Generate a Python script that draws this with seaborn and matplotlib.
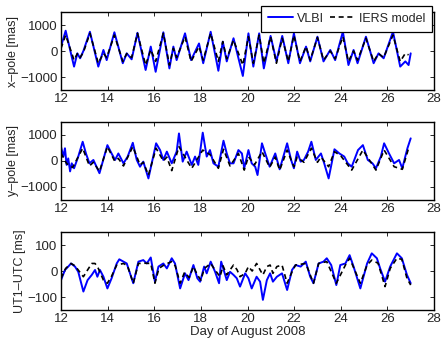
import matplotlib
matplotlib.use("Agg")
import matplotlib.pyplot as plt
import seaborn as sns

# x-pole [mas]
xp_vlbi_t = [12.0, 12.2, 12.46, 12.56, 12.7, 12.82, 12.96, 13.24, 13.6, 13.82, 13.96, 14.29, 14.65, 14.82,
             15.03, 15.28, 15.63, 15.85, 16.06, 16.39, 16.65, 16.82, 16.96, 17.32, 17.58, 17.92, 18.1, 18.42,
             18.75, 18.94, 19.11, 19.4, 19.8, 20.04, 20.25, 20.5, 20.7, 20.99, 21.24, 21.49, 21.75, 21.99,
             22.25, 22.51, 22.69, 23.0, 23.26, 23.55, 23.76, 24.09, 24.33, 24.55, 24.72, 25.08, 25.41, 25.62,
             25.84, 26.24, 26.55, 26.77, 26.91, 27.0]
xp_vlbi = [170, 780, -220, -600, -90, -280, 0, 740, -600, 40, -350, 720, -470, -90,
           -320, 700, -730, 170, -800, 720, -670, 170, -350, 680, -350, 290, -470, 740,
           -760, 360, -400, 490, -960, 680, -600, 680, -670, 580, -400, 580, -470, 680,
           -470, 170, -400, 550, -400, 40, -350, 740, -540, 40, -470, 550, -470, -90,
           -280, 740, -600, -400, -540, -90]
xp_iers_t = [12.0, 12.2, 12.56, 12.7, 12.82, 12.96, 13.24, 13.6, 13.82, 13.96, 14.29, 14.65, 14.82, 15.03,
             15.28, 15.63, 15.85, 16.06, 16.39, 16.65, 16.82, 16.96, 17.32, 17.58, 17.92, 18.1, 18.42, 18.75,
             18.94, 19.11, 19.4, 19.8, 20.04, 20.25, 20.5, 20.7, 20.99, 21.24, 21.49, 21.75, 21.99, 22.25,
             22.51, 22.69, 23.0, 23.26, 23.55, 23.76, 24.09, 24.33, 24.55, 24.72, 25.08, 25.41, 25.62, 25.84,
             26.24, 26.55, 26.77, 26.91]
xp_iers = [100, 610, -350, -100, -250, -50, 680, -470, -90, -250, 610, -400, -100, -250,
           680, -540, 50, -400, 680, -540, 100, -250, 550, -400, 170, -350, 680, -400,
           360, -300, 420, -540, 550, -470, 610, -470, 550, -470, 490, -400, 600, -400,
           170, -350, 520, -350, 0, -300, 550, -400, 0, -350, 490, -400, -100, -250,
           610, -400, -90, -150]

# y-pole [mas]
yp_vlbi_t = [12.0, 12.1, 12.17, 12.24, 12.31, 12.39, 12.46, 12.56, 12.74, 12.93, 13.07, 13.22, 13.39, 13.65,
             13.99, 14.17, 14.32, 14.46, 14.68, 14.86, 15.08, 15.25, 15.39, 15.53, 15.75, 16.08, 16.25, 16.39,
             16.54, 16.75, 16.96, 17.06, 17.22, 17.39, 17.61, 17.75, 17.89, 18.08, 18.25, 18.39, 18.54, 18.75,
             18.97, 19.11, 19.25, 19.4, 19.61, 19.76, 19.86, 20.04, 20.18, 20.33, 20.43, 20.62, 20.76, 20.95,
             21.19, 21.38, 21.7, 21.87, 21.99, 22.13, 22.28, 22.42, 22.6, 22.74, 22.93, 23.15, 23.29, 23.48,
             23.73, 23.94, 24.15, 24.3, 24.47, 24.74, 24.95, 25.16, 25.36, 25.51, 25.72, 25.86, 26.07, 26.29,
             26.5, 26.64, 26.86, 27.0]
yp_vlbi = [550, 170, 490, -150, 100, -400, -90, -280, 170, 740, 290, -90, 40, -470,
           610, 290, 40, 290, -90, 170, 700, 40, -220, -25, -670, 680, 420, 40,
           360, -90, 360, 1060, -25, 360, -150, 170, -150, 1090, 170, 420, -90, -220,
           780, 290, -90, -90, 420, 290, -280, 420, -90, -220, -540, 680, 290, -220,
           290, -320, 680, 40, -280, 360, -25, 40, 360, 740, 40, 290, -90, -670,
           450, 290, 170, -90, -220, 420, 610, 40, -90, -280, 170, 680, 290, -90,
           40, -280, 490, 870]
yp_iers_t = [12.0, 12.24, 12.5, 12.93, 13.22, 13.39, 13.65, 13.99, 14.3, 14.46, 14.68, 15.08, 15.39, 15.53,
             15.75, 16.08, 16.39, 16.54, 16.75, 17.06, 17.39, 17.61, 18.08, 18.39, 18.75, 18.97, 19.25, 19.61,
             19.86, 20.04, 20.3, 20.62, 20.95, 21.19, 21.38, 21.7, 21.99, 22.13, 22.42, 22.74, 23.0, 23.15,
             23.48, 23.73, 24.0, 24.47, 24.95, 25.51, 25.86, 26.29, 26.64, 26.93]
yp_iers = [300, -100, -250, 490, -190, -50, -400, 550, 0, 100, -190, 550, -150, -50,
           -540, 490, 0, 150, -370, 550, 40, -280, 420, 250, -280, 450, -190, 290,
           -350, 170, -150, 360, -240, 150, -350, 420, -220, 150, -50, 490, -50, 150,
           -220, 360, 200, -350, 420, -350, 420, -220, -320, 550]

# UT1-UTC [ms]
ut_vlbi_t = [12.0, 12.17, 12.31, 12.43, 12.6, 12.74, 12.96, 13.14, 13.32, 13.46, 13.56, 13.67, 13.82, 13.99,
             14.17, 14.39, 14.5, 14.68, 14.82, 15.1, 15.32, 15.53, 15.68, 15.85, 16.03, 16.18, 16.39, 16.54,
             16.75, 16.89, 17.11, 17.32, 17.47, 17.68, 17.85, 17.97, 18.14, 18.25, 18.42, 18.61, 18.78, 18.87,
             19.11, 19.25, 19.4, 19.54, 19.68, 19.9, 20.04, 20.18, 20.39, 20.54, 20.66, 20.83, 20.97, 21.09,
             21.26, 21.48, 21.7, 21.91, 22.06, 22.28, 22.5, 22.69, 22.83, 23.05, 23.26, 23.4, 23.59, 23.81,
             23.98, 24.2, 24.38, 24.55, 24.84, 25.13, 25.33, 25.55, 25.69, 25.9, 26.12, 26.41, 26.62, 26.84,
             27.0]
ut_vlbi = [-35, 4, 17, 29, 17, -3, -79, -35, -15, 4, -22, 4, -22, -67,
           -28, 29, 45, 36, 29, -47, 36, 42, 29, 52, -41, 17, 29, 10,
           49, 29, -67, -9, -35, 23, -28, -41, 17, -9, 36, -3, -47, 36,
           -35, -3, -15, -28, -60, -9, -28, -67, -22, -41, -111, -35, -9, -41,
           -22, -9, -73, 4, 23, 17, 36, -22, -47, 29, 36, 49, 23, -54,
           23, 29, 61, 17, -67, 29, 68, 49, 10, -41, 17, 68, 49, -15,
           -47]
ut_iers_t = [12.0, 12.2, 12.43, 12.6, 12.96, 13.14, 13.32, 13.46, 13.6, 13.82, 13.99, 14.17, 14.39, 14.68,
             14.85, 15.1, 15.32, 15.6, 15.85, 16.03, 16.2, 16.45, 16.75, 16.9, 17.11, 17.3, 17.5, 17.68,
             17.85, 18.0, 18.15, 18.42, 18.6, 18.82, 18.95, 19.11, 19.25, 19.4, 19.55, 19.68, 19.9, 20.04,
             20.2, 20.39, 20.54, 20.66, 20.83, 20.97, 21.09, 21.26, 21.48, 21.7, 21.91, 22.06, 22.5, 22.83,
             23.05, 23.4, 23.81, 24.2, 24.38, 24.84, 25.13, 25.33, 25.6, 25.9, 26.12, 26.41, 26.62, 26.84,
             27.0]
ut_iers = [-28, 10, 29, 20, -22, 4, 29, 29, 10, -35, -47, -20, 23, 29,
           20, -47, 29, 30, 29, -47, 10, 25, 36, 20, -47, -5, -25, 17,
           -15, -35, 10, 29, 5, -22, 20, -15, 4, 23, 5, -22, -9, 17,
           0, 29, 4, -15, 17, 23, -9, 17, 23, -47, -3, 23, 29, -47,
           29, 36, -47, 23, 49, -47, 23, 42, 30, -60, 10, 49, 45, -28,
           -54]

panels = [
    ("x\u2013pole [mas]", xp_vlbi_t, xp_vlbi, xp_iers_t, xp_iers, 1500, [-1000, 0, 1000]),
    ("y\u2013pole [mas]", yp_vlbi_t, yp_vlbi, yp_iers_t, yp_iers, 1500, [-1000, 0, 1000]),
    ("UT1\u2013UTC [ms]", ut_vlbi_t, ut_vlbi, ut_iers_t, ut_iers, 150, [-100, 0, 100]),
]

sns.set_style("ticks")
plt.rcParams["font.family"] = ["Liberation Sans", "DejaVu Sans"]
plt.rcParams["font.size"] = 9

fig = plt.figure(figsize=(4.43, 3.38), dpi=100)
boxes = [(0.1377, 0.7337, 0.842, 0.2308),
         (0.1377, 0.4083, 0.842, 0.2308),
         (0.1377, 0.0828, 0.842, 0.2308)]

axes = []
for box, (ylabel, tv, v, tm, m, lim, yt) in zip(boxes, panels):
    ax = fig.add_axes(box)
    sns.lineplot(x=tv, y=v, ax=ax, color="#0000ff", lw=1.4, label="VLBI")
    sns.lineplot(x=tm, y=m, ax=ax, color="black", lw=1.2, label="IERS model",
                 linestyle=(0, (3.0, 2.2)))
    ax.set_xlim(12, 28)
    ax.set_ylim(-lim, lim)
    ax.set_xticks(range(12, 29, 2))
    ax.set_yticks(yt)
    ax.set_ylabel(ylabel, fontsize=9, labelpad=1)
    ax.tick_params(direction="in", top=True, right=True, length=3, width=0.7,
                   labelsize=9.5, pad=2.5)
    for s in ax.spines.values():
        s.set_linewidth(1.0)
        s.set_color("black")
    ax.get_legend().remove()
    axes.append(ax)

fig.align_ylabels(axes)
axes[2].set_xlabel("Day of August 2008", fontsize=9.5, labelpad=0.5)

h, l = axes[0].get_legend_handles_labels()
leg = axes[0].legend(h, l, loc="upper right", bbox_to_anchor=(0.995, 1.08), ncol=2,
                     fontsize=9, frameon=True, fancybox=False, framealpha=1,
                     edgecolor="black", handlelength=2.0, handletextpad=0.3,
                     columnspacing=0.5, borderpad=0.55, borderaxespad=0)
leg.get_frame().set_linewidth(0.9)

fig.savefig("out.png", dpi=100, facecolor="white")
